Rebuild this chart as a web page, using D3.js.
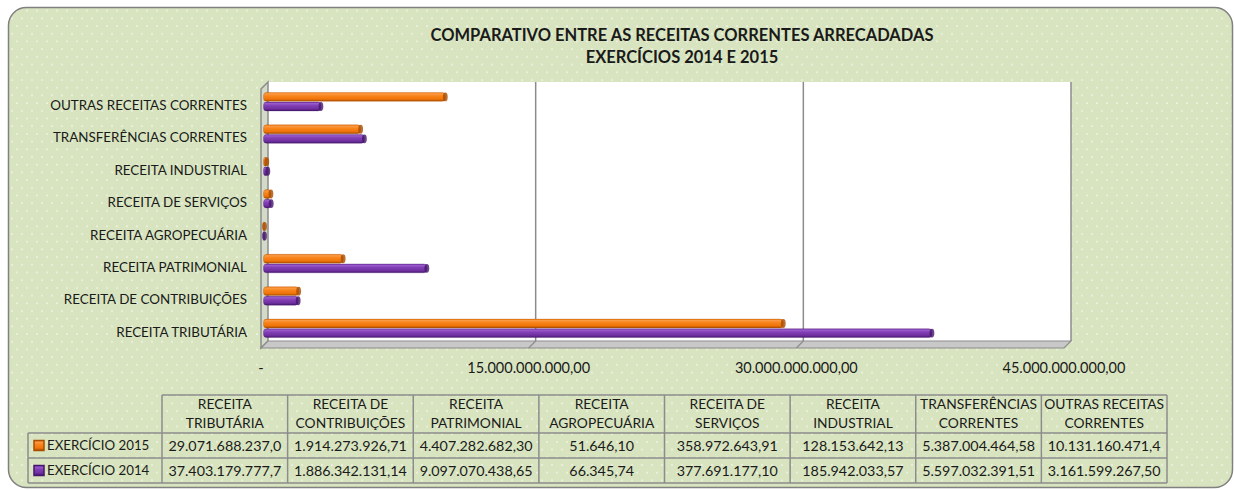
<!DOCTYPE html>
<html>
<head>
<meta charset="utf-8">
<script src="https://cdn.jsdelivr.net/npm/d3@7"></script>
<style>
  body { margin: 0; background: #fff; }
  text { font-family: Lato, "Noto Sans", sans-serif; fill: #1a1a1a; }
</style>
</head>
<body>
<div id="chart"></div>
<script>
// data
const categories = [
  'RECEITA TRIBUTÁRIA', 'RECEITA DE CONTRIBUIÇÕES', 'RECEITA PATRIMONIAL',
  'RECEITA AGROPECUÁRIA', 'RECEITA DE SERVIÇOS', 'RECEITA INDUSTRIAL',
  'TRANSFERÊNCIAS CORRENTES', 'OUTRAS RECEITAS CORRENTES'
];
const series = ['EXERCÍCIO 2015', 'EXERCÍCIO 2014'];
const values2015 = [29071688237.02, 1914273926.71, 4407282682.30, 51646.10,
  358972643.91, 128153642.13, 5387004464.58, 10131160471.40];
const values2014 = [37403179777.70, 1886342131.14, 9097070438.65, 66345.74,
  377691177.10, 185942033.57, 5597032391.51, 3161599267.50];
const xTicks = [0, 15e9, 30e9, 45e9];
const titleLines = ['COMPARATIVO ENTRE AS RECEITAS CORRENTES ARRECADADAS', 'EXERCÍCIOS 2014 E 2015'];

const W = 1234, H = 490;
const depth = 7; // 3d wall depth offset
const colors = {
  'EXERCÍCIO 2015': ['#fb9a45', '#f8841a', '#f07409', '#a84c00'],
  'EXERCÍCIO 2014': ['#9a5ccb', '#823fb5', '#7030a0', '#45166c']
};

const ptBR = d3.formatLocale({ decimal: ',', thousands: '.', grouping: [3], currency: ['R$', ''] });
const fmt = ptBR.format(',.2f');
const tickFmt = v => v === 0 ? '-' : fmt(v);

const svg = d3.select('#chart').append('svg')
  .attr('width', W).attr('height', H);
const defs = svg.append('defs');

// dotted green background
const pat = defs.append('pattern').attr('id', 'dots')
  .attr('patternUnits', 'userSpaceOnUse').attr('width', 10).attr('height', 15.4);
pat.append('rect').attr('width', 10).attr('height', 15.4).attr('fill', '#d8e4bf');
pat.append('circle').attr('cx', 2).attr('cy', 3).attr('r', 0.9).attr('fill', '#f6f8ef');
pat.append('circle').attr('cx', 7).attr('cy', 10.7).attr('r', 0.9).attr('fill', '#f6f8ef');

series.forEach((s, i) => {
  const c = colors[s];
  const g = defs.append('linearGradient').attr('id', 'bar' + i)
    .attr('x1', 0).attr('y1', 0).attr('x2', 0).attr('y2', 1);
  g.append('stop').attr('offset', '0%').attr('stop-color', c[2]);
  g.append('stop').attr('offset', '15%').attr('stop-color', c[0]);
  g.append('stop').attr('offset', '40%').attr('stop-color', c[1]);
  g.append('stop').attr('offset', '75%').attr('stop-color', c[2]);
  g.append('stop').attr('offset', '100%').attr('stop-color', c[3]);
});

svg.append('rect')
  .attr('x', 8.5).attr('y', 7.5).attr('width', 1224).attr('height', 480)
  .attr('rx', 18).attr('fill', 'url(#dots)')
  .attr('stroke', '#808080').attr('stroke-width', 1.5);

// title
svg.append('g').selectAll('text').data(titleLines).enter().append('text')
  .attr('x', 682).attr('y', (d, i) => 35 + i * 22).attr('dy', '0.36em')
  .attr('text-anchor', 'middle').attr('font-weight', 'bold').attr('font-size', 16.5)
  .text(d => d);

// scales (front plane)
const x = d3.scaleLinear().domain([0, 45e9]).range([261, 1064]);
const y = d3.scaleBand().domain(categories.slice().reverse()).range([89, 348]);
const yIn = d3.scaleBand().domain(series)
  .range([y.bandwidth() * 0.215, y.bandwidth() * 0.785]).paddingInner(0.08);

const x0 = x(0), x1 = x(45e9), yTop = y.range()[0], yBot = y.range()[1];

// walls
const walls = svg.append('g');
walls.append('rect')
  .attr('x', x0 + depth).attr('y', yTop - depth)
  .attr('width', x1 - x0).attr('height', yBot - yTop)
  .attr('fill', '#fff');
walls.append('path')
  .attr('d', `M${x0},${yTop} L${x0 + depth},${yTop - depth} L${x0 + depth},${yBot - depth} L${x0},${yBot} Z`)
  .attr('fill', '#d4dac8').attr('stroke', '#8c8c8c').attr('stroke-width', 1.5);
walls.append('path')
  .attr('d', `M${x0},${yBot} L${x0 + depth},${yBot - depth} L${x1 + depth},${yBot - depth} L${x1},${yBot} Z`)
  .attr('fill', '#c8c8c8').attr('stroke', '#8c8c8c').attr('stroke-width', 1.2);
walls.append('line')
  .attr('x1', x1 + depth).attr('x2', x1 + depth)
  .attr('y1', yTop - depth).attr('y2', yBot - depth)
  .attr('stroke', '#8c8c8c').attr('stroke-width', 1.5);

const grid = xTicks.filter(t => t > 0 && t < 45e9);
walls.selectAll('.grid').data(grid).enter().append('line')
  .attr('class', 'grid')
  .attr('x1', d => x(d) + depth).attr('x2', d => x(d) + depth)
  .attr('y1', yTop - depth).attr('y2', yBot - depth)
  .attr('stroke', '#8c8c8c').attr('stroke-width', 1.5);
walls.selectAll('.floorgrid').data(grid).enter().append('line')
  .attr('class', 'floorgrid')
  .attr('x1', d => x(d) + depth).attr('x2', d => x(d))
  .attr('y1', yBot - depth).attr('y2', yBot)
  .attr('stroke', '#8c8c8c').attr('stroke-width', 1.2);

// bars sit halfway into the depth
const half = depth / 2;
const rows = categories.map((c, i) => ({ cat: c, vals: [values2015[i], values2014[i]] }));
const barG = svg.append('g');
rows.forEach(r => {
  r.vals.forEach((v, si) => {
    const s = series[si];
    const by = y(r.cat) - half + yIn(s);
    const bh = yIn.bandwidth();
    const bx0 = x0 + half - 1, bx1 = x(v) + half;
    barG.append('rect')
      .attr('x', bx0).attr('y', by)
      .attr('width', Math.max(0, bx1 - bx0)).attr('height', bh)
      .attr('rx', 3).attr('fill', `url(#bar${si})`)
      .attr('stroke', colors[s][3]).attr('stroke-opacity', 0.35).attr('stroke-width', 0.8);
    barG.append('ellipse')
      .attr('cx', bx1).attr('cy', by + bh / 2)
      .attr('rx', 2.4).attr('ry', bh / 2)
      .attr('fill', colors[s][3]).attr('opacity', 0.8);
  });
});

// category labels
svg.append('g').selectAll('text').data(categories).enter().append('text')
  .attr('x', 247).attr('y', d => y(d) + y.bandwidth() / 2).attr('dy', '0.36em')
  .attr('text-anchor', 'end').attr('font-size', 13.4)
  .text(d => d);

// x tick labels
svg.append('g').selectAll('text').data(xTicks).enter().append('text')
  .attr('x', d => x(d)).attr('y', 368).attr('dy', '0.36em')
  .attr('text-anchor', 'middle').attr('font-size', 14.5)
  .text(tickFmt);

// data table
const col = d3.scaleBand().domain(categories).range([162, 1167]);
const legL = 28, hTop = 395, hBot = 433, rowH = 25;
const tbl = svg.append('g');
const lineC = '#8c8c8c';
const ln = (a, b, c, d) => tbl.append('line').attr('x1', a).attr('y1', b).attr('x2', c).attr('y2', d)
  .attr('stroke', lineC).attr('stroke-width', 1.5);
ln(162, hTop, 1167, hTop);
[0, 1, 2].forEach(i => ln(legL, hBot + i * rowH, 1167, hBot + i * rowH));
ln(legL, hBot, legL, hBot + 2 * rowH);
categories.forEach(c => ln(col(c), hTop, col(c), hBot + 2 * rowH));
ln(1167, hTop, 1167, hBot + 2 * rowH);

const headerLines = c => {
  const w = c.split(' ');
  return [w.slice(0, -1).join(' '), w[w.length - 1]];
};
categories.forEach(c => {
  tbl.selectAll(null).data(headerLines(c)).enter().append('text')
    .attr('x', col(c) + col.bandwidth() / 2).attr('y', (d, i) => 404.5 + i * 19).attr('dy', '0.36em')
    .attr('text-anchor', 'middle').attr('font-size', 13.8)
    .text(d => d);
});

// cells too narrow for the full number get cut, like the spreadsheet does
const fitText = (sel, maxW) => {
  sel.each(function () {
    const t = d3.select(this);
    let s = t.text();
    while (this.getComputedTextLength() > maxW && s.length > 1) {
      s = s.slice(0, -1);
      t.text(s);
    }
  });
};

series.forEach((s, si) => {
  const ry = hBot + si * rowH + rowH / 2;
  tbl.append('rect')
    .attr('x', 34).attr('y', ry - 5).attr('width', 10).attr('height', 10)
    .attr('fill', `url(#bar${si})`).attr('stroke', colors[s][3]).attr('stroke-width', 1.5);
  tbl.append('text').attr('x', 47).attr('y', ry).attr('dy', '0.36em')
    .attr('font-size', 13.3).text(s);
  const vals = si === 0 ? values2015 : values2014;
  const cells = tbl.selectAll(null).data(categories).enter().append('text')
    .attr('x', c => col(c) + col.bandwidth() / 2).attr('y', ry).attr('dy', '0.36em')
    .attr('text-anchor', 'middle').attr('font-size', 14.3)
    .text((c, i) => fmt(vals[i]));
  fitText(cells, 118);
});
</script>
</body>
</html>
